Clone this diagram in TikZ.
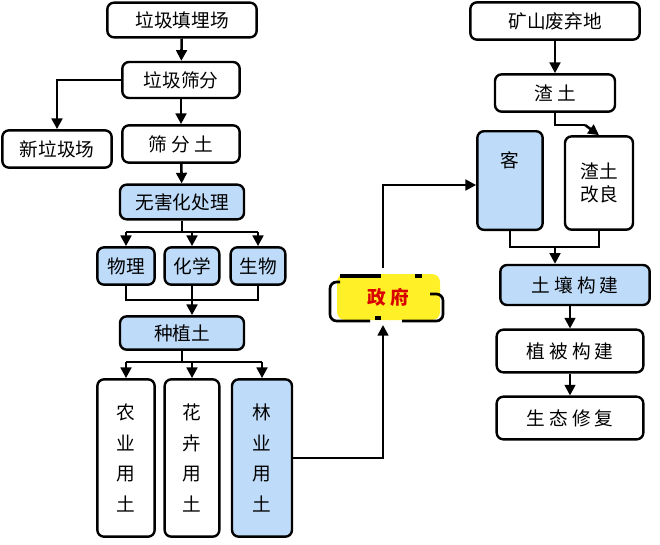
\documentclass[tikz,border=0pt]{standalone}
\usepackage{fontspec}
\setmainfont{Noto Sans CJK SC}
\usetikzlibrary{arrows.meta}
\definecolor{bl}{RGB}{190,220,250}
\definecolor{yl}{RGB}{255,240,40}
\begin{document}
\begin{tikzpicture}[x=0.75pt,y=-0.75pt,
  bx/.style={draw,line width=1.8pt,rounded corners=5pt,fill=white,inner sep=0pt,font=\fontsize{14}{17}\selectfont},
  bb/.style={bx,fill=bl},
  ar/.style={line width=1.9pt,-{Triangle[length=8pt,width=8pt]}},
  ln/.style={line width=1.9pt}]
\useasboundingbox (0,0) rectangle (660,544);
\node[bx,minimum width=112pt,minimum height=26pt] (a) at (182,20) {垃圾填埋场};
\node[bx,minimum width=88pt,minimum height=27pt] (b) at (181,80) {垃圾筛分};
\node[bx,minimum width=82pt,minimum height=28pt] (c) at (57,149) {新垃圾场};
\node[bx,minimum width=88pt,minimum height=28pt] (d) at (181,144) {筛\ 分\ 土};
\node[bb,minimum width=93pt,minimum height=26pt] (e) at (182,202) {无害化处理};
\node[bb,minimum width=43pt,minimum height=28pt] (f1) at (126,266) {物理};
\node[bb,minimum width=41pt,minimum height=28pt] (f2) at (192,266) {化学};
\node[bb,minimum width=41pt,minimum height=28pt] (f3) at (258,266) {生物};
\node[bb,minimum width=93pt,minimum height=25pt] (g) at (182,333) {种植土};
\node[bx,minimum width=43pt,minimum height=118pt,align=center] (h1) at (126,458) {农\\[6pt]业\\[6pt]用\\[6pt]土};
\node[bx,minimum width=41pt,minimum height=118pt,align=center] (h2) at (192,458) {花\\[6pt]卉\\[6pt]用\\[6pt]土};
\node[bb,minimum width=45pt,minimum height=118pt,align=center] (h3) at (262,458) {林\\[6pt]业\\[6pt]用\\[6pt]土};
% government
\fill[yl,rounded corners=6pt] (337,274) rectangle (440,320);
\node[font=\bfseries\fontsize{14}{17}\selectfont,text=red!85!black] (gov) at (388,297) {政\ 府};
\draw[line width=2.5pt] (340,276)--(381,276) (415,276)--(422,276) (375,318)--(381,318);
\draw[line width=2pt,rounded corners=5pt] (340,282)--(330,282)--(330,321)--(370,321);
\draw[line width=2pt,rounded corners=5pt] (430,294)--(443,294)--(443,321)--(402,321);
\coordinate (gt) at (383,268);
\coordinate (gb) at (383,325);
% right
\node[bx,minimum width=127pt,minimum height=28pt] (m) at (555,21) {矿山废弃地};
\node[bx,minimum width=90pt,minimum height=28pt] (n) at (555,93) {渣\ 土};
\node[bb,minimum width=49pt,minimum height=74pt,anchor=north] (k) at (510,130) {};
\node at (510,160) {\fontsize{14}{17}\selectfont 客};
\node[bx,minimum width=51pt,minimum height=70pt,align=center] (r) at (599,183) {渣土\\改良};
\node[bb,minimum width=112pt,minimum height=30pt] (s) at (575,285) {土\ 壤\ 构\ 建};
\node[bx,minimum width=110pt,minimum height=32pt] (t) at (570,351) {植\ 被\ 构\ 建};
\node[bx,minimum width=110pt,minimum height=32pt] (u) at (570,418) {生\ 态\ 修\ 复};
% arrows left
\draw[ar] (a) -- (b);
\draw[ar] (b.west) -| (c.north);
\draw[ar] (b) -- (d);
\draw[ar] (d) -- (e);
\draw[ln] (e.south) -- (182,232);
\draw[ln] (126,232) -- (258,232);
\draw[ar] (126,232) -- (f1.north);
\draw[ar] (192,232) -- (f2.north);
\draw[ar] (258,232) -- (f3.north);
\draw[ln] (f1.south) |- (192,300) (f3.south) |- (192,300) (f2.south) -- (192,300);
\draw[ar] (192,300) -- (192,300 |- g.north);
\draw[ln] (g.south) -- (182,362);
\draw[ln] (126,362) -- (262,362);
\draw[ar] (126,362) -- (h1.north);
\draw[ar] (192,362) -- (h2.north);
\draw[ar] (262,362) -- (h3.north);
\draw[ar] (h3.east) -| (gb);
\draw[ar] (gt) |- (k.west |- 0,185);
% right arrows
\draw[ar] (m) -- (n);
\draw[ln] (n.south) -- (555,125) -- (585,125);
\draw[ar] (585,125) -- (r.north);
\draw[ln] (k.south) |- (555,247) (r.south) |- (555,247);
\draw[ar] (555,247) -- (555,247 |- s.north);
\draw[ar] (s.south -| 570,0) -- (t);
\draw[ar] (t) -- (u);
\end{tikzpicture}
\end{document}
